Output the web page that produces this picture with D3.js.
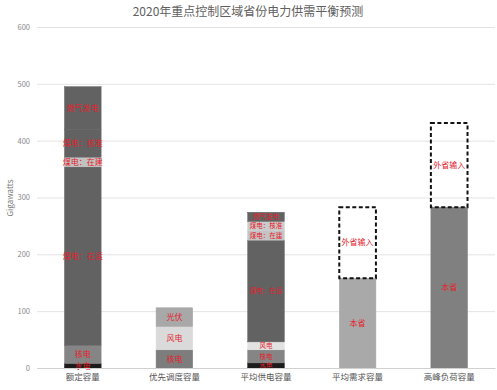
<!DOCTYPE html>
<html><head><meta charset="utf-8">
<script src="https://cdn.jsdelivr.net/npm/d3@7"></script>
<style>body{margin:0;background:#fff}svg{display:block}</style>
</head><body>
<svg id="c" width="497" height="390"></svg>
<script>
const categories = ["额定容量","优先调度容量","平均供电容量","平均需求容量","高峰负荷容量"];
const yTicks = [0,100,200,300,400,500,600];
const ratedLabels = ["水电","核电","煤电：在运","煤电：在建","煤电：核准","燃气发电"];
const ratedValues = [8,32,314,17,49,75];
const priorityLabels = ["核电","风电","光伏"];
const priorityValues = [32,41,33];
const supplyLabels = ["水电","核电","风电","煤电：在运","煤电：在建","煤电：核准","燃气发电"];
const supplyValues = [9,23,14,179,17,16,16];
const demandLabels = ["本省","外省输入"];
const demandValues = [158,125];
const peakLabels = ["本省","外省输入"];
const peakValues = [283,148];

// styles
const ratedColors = ["#1c1c1c","#858585","#626262","#c2c2c2","#626262","#626262"];
const priorityColors = ["#7d7d7d","#dadada","#a8a8a8"];
const supplyColors = ["#1c1c1c","#858585","#e2e2e2","#626262","#c4c4c4","#cbcbcb","#626262"];
const demandColors = ["#a9a9a9",null];
const peakColors = ["#808080",null];
const labelSizes = [8,8,6.5,8,8];

const bars = [
  {labels: ratedLabels, values: ratedValues, colors: ratedColors},
  {labels: priorityLabels, values: priorityValues, colors: priorityColors},
  {labels: supplyLabels, values: supplyValues, colors: supplyColors},
  {labels: demandLabels, values: demandValues, colors: demandColors},
  {labels: peakLabels, values: peakValues, colors: peakColors}
];

const svg = d3.select("#c");
const font = "'Noto Sans CJK SC','Noto Sans',sans-serif";
const x = d3.scaleBand().domain(categories).range([37,495]).paddingInner(0.6).paddingOuter(0.3);
const y = d3.scaleLinear().domain([0,600]).range([368,27]);

svg.append("text").attr("x",248).attr("y",16).attr("text-anchor","middle")
  .attr("font-family",font).attr("font-size",12).attr("fill","#606060")
  .text("2020年重点控制区域省份电力供需平衡预测");

// grid
const yAxis = d3.axisLeft(y).tickValues(yTicks).tickSize(-458).tickPadding(7);
const gy = svg.append("g").attr("transform","translate(37,0)").call(yAxis);
gy.select(".domain").remove();
gy.selectAll(".tick line").attr("stroke","#e3e3e3").attr("stroke-width",1);
gy.selectAll(".tick text").attr("font-family",font).attr("font-size",7.5).attr("fill","#8a8a8a");

svg.append("text").attr("transform","translate(13,198) rotate(-90)").attr("text-anchor","middle")
  .attr("font-family",font).attr("font-size",8).attr("fill","#7a7a7a").text("Gigawatts");

// bars
bars.forEach((b,i)=>{
  const cat = categories[i];
  const stack = d3.stack().keys(b.labels.map((_,k)=>k))([b.values]);
  const g = svg.append("g");
  stack.forEach((layer,k)=>{
    const y0 = layer[0][0], y1 = layer[0][1];
    const col = b.colors[k];
    const r = g.append("rect").attr("x",x(cat)).attr("width",x.bandwidth())
      .attr("y",y(y1)).attr("height",y(y0)-y(y1));
    if(col) r.attr("fill",col).attr("stroke",col).attr("stroke-width",0.5);
    else r.attr("fill","none").attr("stroke","#111").attr("stroke-width",2).attr("stroke-dasharray","4,2.5");
  });
  stack.forEach((layer,k)=>{
    const y0 = layer[0][0], y1 = layer[0][1];
    g.append("text").attr("x",x(cat)+x.bandwidth()/2).attr("y",y((y0+y1)/2))
      .attr("dy","0.35em").attr("text-anchor","middle")
      .attr("font-family",font).attr("font-size",labelSizes[i]).attr("fill","#e3212b")
      .text(b.labels[k]);
  });
});

// x axis
const gx = svg.append("g").attr("transform","translate(0,368)").call(d3.axisBottom(x).tickSize(0).tickPadding(6));
gx.select(".domain").attr("stroke","#d0d0d0");
gx.selectAll(".tick text").attr("font-family",font).attr("font-size",8.5).attr("fill","#555");
</script>
</body></html>
